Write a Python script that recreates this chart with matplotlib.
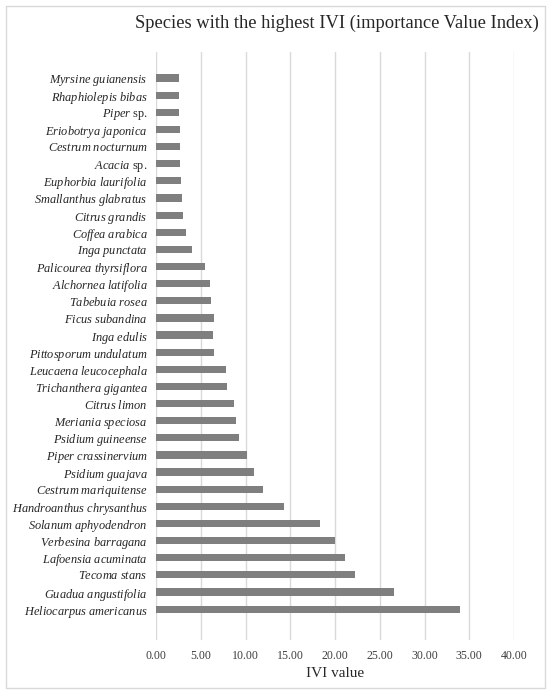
import numpy as np
import matplotlib
matplotlib.use('Agg')
from matplotlib import pyplot as plt
from matplotlib.patches import Rectangle

plt.rcParams['font.family'] = ['Liberation Serif', 'DejaVu Serif']
plt.rcParams['mathtext.fontset'] = 'custom'
plt.rcParams['mathtext.rm'] = 'Liberation Serif'
plt.rcParams['mathtext.it'] = 'Liberation Serif:italic'

# Data, bottom bar first
genus = ['Heliocarpus americanus', 'Guadua angustifolia', 'Tecoma stans',
         'Lafoensia acuminata', 'Verbesina barragana', 'Solanum aphyodendron',
         'Handroanthus chrysanthus', 'Cestrum mariquitense', 'Psidium guajava',
         'Piper crassinervium', 'Psidium guineense', 'Meriania speciosa',
         'Citrus limon', 'Trichanthera gigantea', 'Leucaena leucocephala',
         'Pittosporum undulatum', 'Inga edulis', 'Ficus subandina',
         'Tabebuia rosea', 'Alchornea latifolia', 'Palicourea thyrsiflora',
         'Inga punctata', 'Coffea arabica', 'Citrus grandis',
         'Smallanthus glabratus', 'Euphorbia laurifolia', 'Acacia',
         'Cestrum nocturnum', 'Eriobotrya japonica', 'Piper',
         'Rhaphiolepis bibas', 'Myrsine guianensis']
suffix = ['', '', '', '', '', '', '', '', '', '', '', '', '', '', '', '',
          '', '', '', '', '', '', '', '', '', '', ' sp.', '', '', ' sp.', '', '']
ivi = [33.95, 26.6, 22.25, 21.15, 20.05, 18.3, 14.35, 11.9, 10.95,
       10.2, 9.3, 8.95, 8.75, 7.95, 7.8, 6.5, 6.4, 6.5, 6.15, 6.05,
       5.5, 3.97, 3.4, 3.0, 2.9, 2.83, 2.72, 2.64, 2.64, 2.56, 2.56, 2.56]
xticks = [0, 5, 10, 15, 20, 25, 30, 35, 40]

labels = []
for g, s in zip(genus, suffix):
    labels.append(r'$\mathit{' + g.replace(' ', r'\ ') + '}$' + s)

fig = plt.figure(figsize=(5.5, 6.94), dpi=100)
fig.patches.append(Rectangle((6/550, 6/694), 539/550, 682/694, transform=fig.transFigure,
                             fill=False, edgecolor='#d9d9d9', linewidth=1))
ax = fig.add_axes([156/550, 1 - 640/694, 358/550, 588/694])

y = np.arange(len(ivi))
ax.barh(y, ivi, height=0.42, color='#7f7f7f', zorder=3)
ax.set_yticks(y)
ax.set_yticklabels(labels, fontsize=8.9, color='#262626')
ax.set_ylim(-1.8, len(ivi) - 1 + 1.52)
ax.set_xlim(0, 40)
ax.set_xticks(xticks)
ax.set_xticklabels(['%.2f' % v for v in xticks], fontsize=8.6, color='#404040')
ax.tick_params(axis='y', length=0, pad=6)
ax.tick_params(axis='x', length=0, pad=7)
ax.grid(axis='x', color='#d9d9d9', linewidth=1, zorder=0)
for s in ax.spines.values():
    s.set_visible(False)
ax.set_xlabel('IVI value', fontsize=11, color='#262626', labelpad=4)

fig.text(337/550, 1 - 23/694, 'Species with the highest IVI (importance Value Index)',
         ha='center', va='center', fontsize=13.3, color='#262626')

fig.savefig('out.png', dpi=100)
